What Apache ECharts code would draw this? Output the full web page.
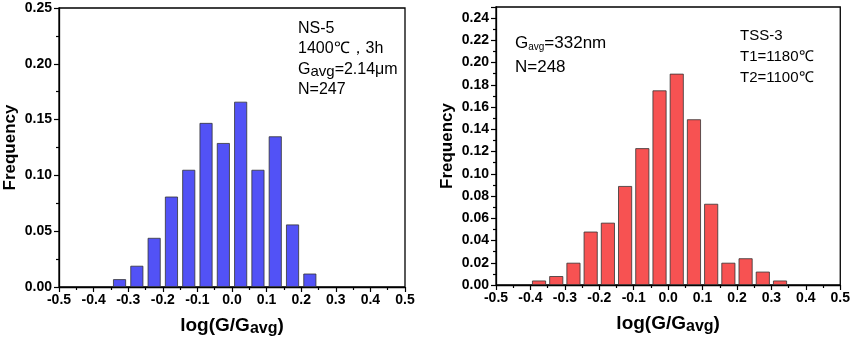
<!DOCTYPE html>
<html><head><meta charset="utf-8">
<script src="https://cdn.jsdelivr.net/npm/echarts@6/dist/echarts.min.js"></script>
<style>html,body{margin:0;padding:0;background:#fff}#c{width:853px;height:343px}</style>
</head><body><div id="c"></div>
<script>
const leftBins = [-0.325,-0.275,-0.225,-0.175,-0.125,-0.075,-0.025,0.025,0.075,0.125,0.175,0.225];
const leftFreq = [0.007,0.019,0.044,0.081,0.105,0.147,0.129,0.166,0.105,0.135,0.056,0.012];
const rightBins = [-0.375,-0.325,-0.275,-0.225,-0.175,-0.125,-0.075,-0.025,0.025,0.075,0.125,0.175,0.225,0.275,0.325];
const rightFreq = [0.004,0.008,0.020,0.048,0.056,0.089,0.123,0.175,0.190,0.149,0.073,0.020,0.024,0.012,0.004];
const leftNotes = ['NS-5','1400℃，3h','{n|G}{s|avg}{n|=2.14μm}','N=247'];
const rightNotesA = ['{n|G}{s|avg}{n|=332nm}','N=248'];
const rightNotesB = ['TSS-3','T1=1180℃','T2=1100℃'];

const FONT = 'Liberation Sans, Arial, sans-serif';
const chart = echarts.init(document.getElementById('c'));
function xAx(idx){
  return {type:'value', gridIndex:idx, min:-0.5, max:0.5, interval:0.1,
    axisLine:{show:true,onZero:false,lineStyle:{color:'#000',width:1.3}},
    axisTick:{show:true,inside:false,length:5,lineStyle:{color:'#000',width:1.2}},
    minorTick:{show:true,splitNumber:2,length:3,lineStyle:{color:'#000',width:1.2}},
    splitLine:{show:false},
    axisLabel:{color:'#000',fontFamily:FONT,fontWeight:'bold',fontSize:14,margin:6,
      formatter:v=>Math.abs(v)<1e-9?'0.0':v.toFixed(1)},
    name:'{n|log(G/G}{s|avg}{n|)}', nameLocation:'middle', nameGap:27,
    nameTextStyle:{rich:{n:{fontFamily:FONT,fontWeight:'bold',fontSize:19,color:'#000'},
      s:{fontFamily:FONT,fontWeight:'bold',fontSize:16,color:'#000',padding:[7,0,0,0]}}}
  };
}
function yAx(idx, interval, hideMax){
  return {type:'value', gridIndex:idx, min:0, max:0.25, interval:interval,
    axisLine:{show:true,onZero:false,lineStyle:{color:'#000',width:1.3}},
    axisTick:{show:true,inside:false,length:5,lineStyle:{color:'#000',width:1.2}},
    minorTick:{show:true,splitNumber:2,length:3,lineStyle:{color:'#000',width:1.2}},
    splitLine:{show:false},
    axisLabel:{color:'#000',fontFamily:FONT,fontWeight:'bold',fontSize:14,margin:7,
      showMaxLabel:!hideMax, formatter:v=>v.toFixed(2)},
    name:'Frequency', nameLocation:'middle', nameGap:40, nameRotate:90,
    nameTextStyle:{fontFamily:FONT,fontWeight:'bold',fontSize:17,color:'#000'}
  };
}
const option = {
  animation:false,
  grid:[
    {left:59, right:448, top:8, bottom:56, show:true, borderColor:'#000', borderWidth:1.3, backgroundColor:'transparent'},
    {left:496, right:12, top:7, bottom:58, show:true, borderColor:'#000', borderWidth:1.3, backgroundColor:'transparent'}
  ],
  xAxis:[xAx(0), xAx(1)],
  yAxis:[yAx(0,0.05,false), yAx(1,0.02,true)],
  series:[
    {type:'bar', xAxisIndex:0, yAxisIndex:0, barWidth:13,
      data:leftBins.map((b,i)=>[b,leftFreq[i]]),
      itemStyle:{color:'#5252F6',borderColor:'#333',borderWidth:0.8}},
    {type:'bar', xAxisIndex:1, yAxisIndex:1, barWidth:14,
      data:rightBins.map((b,i)=>[b,rightFreq[i]]),
      itemStyle:{color:'#F75252',borderColor:'#333',borderWidth:0.8}}
  ],
  graphic:[
    {type:'text', left:298, top:18, style:{text:leftNotes.join('\n'), fill:'#000',
      font:'16px '+FONT, lineHeight:20.5,
      rich:{n:{fontFamily:FONT,fontSize:16,fill:'#000'},s:{fontFamily:FONT,fontSize:15,fill:'#000',padding:[5,0,0,0]}}}},
    {type:'text', left:515, top:31, style:{text:rightNotesA.join('\n'), fill:'#000',
      font:'17px '+FONT, lineHeight:24,
      rich:{n:{fontFamily:FONT,fontSize:17,fill:'#000'},s:{fontFamily:FONT,fontSize:10,fill:'#000',padding:[8,0,0,0]}}}},
    {type:'text', left:740, top:25, style:{text:rightNotesB.join('\n'), fill:'#000',
      font:'15px '+FONT, lineHeight:21}}
  ]
};
chart.setOption(option);
</script></body></html>
